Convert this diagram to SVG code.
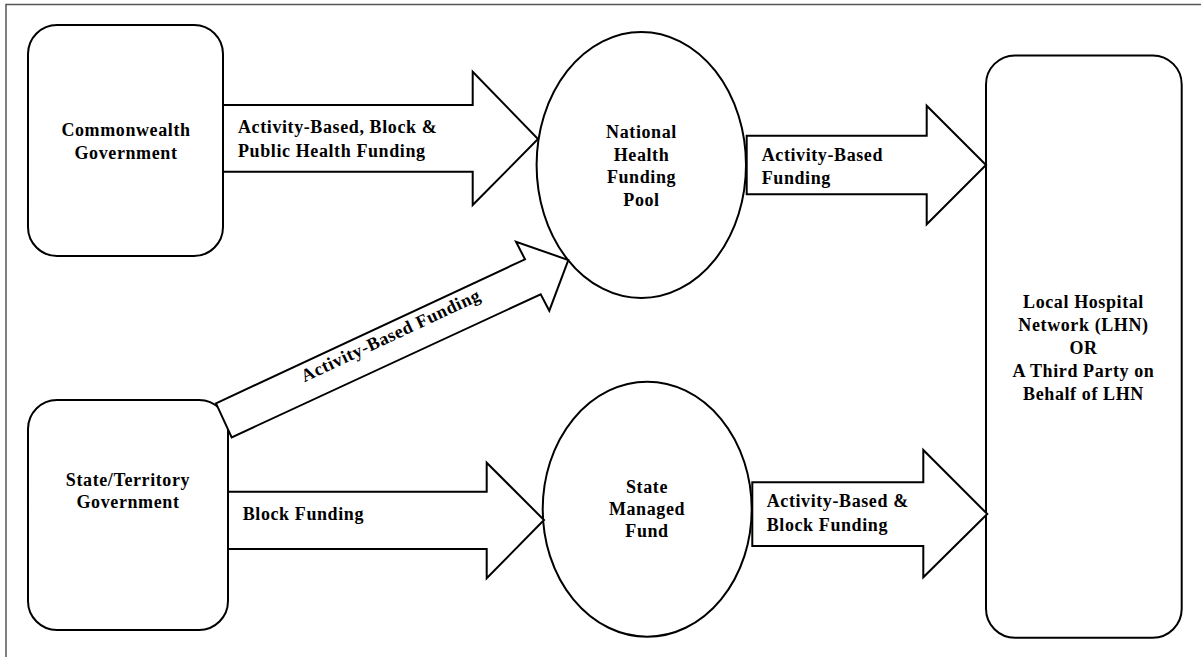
<svg xmlns="http://www.w3.org/2000/svg" width="1201" height="657" viewBox="0 0 1201 657">
<style>
.frame{fill:none;stroke:#555;stroke-width:1.5}
.node{fill:#fff;stroke:#000;stroke-width:2}
.arrow{fill:#fff;stroke:#000;stroke-width:2;stroke-linejoin:miter}
text{font-family:"Liberation Serif","Times New Roman",serif;font-weight:bold;font-size:18px;fill:#000;letter-spacing:0.6px}
.c{text-anchor:middle}
</style>
<rect width="1201" height="657" fill="#fff"/>
<path class="frame" d="M6,657 V4.5 H1201"/>
<g id="commonwealth">
<rect class="node" x="28" y="25" width="195" height="231" rx="29"/>
<text class="c" x="126" y="136">Commonwealth</text>
<text class="c" x="126" y="159">Government</text>
</g>
<g id="state">
<rect class="node" x="28" y="400" width="200" height="230" rx="29"/>
<text class="c" x="128" y="486">State/Territory</text>
<text class="c" x="128" y="508">Government</text>
</g>
<g id="nhfp">
<ellipse class="node" cx="641.3" cy="165" rx="104.7" ry="133"/>
<text class="c" x="641.5" y="138">National</text>
<text class="c" x="641.5" y="160.5">Health</text>
<text class="c" x="641.5" y="183">Funding</text>
<text class="c" x="641.5" y="205.5">Pool</text>
</g>
<g id="smf">
<ellipse class="node" cx="647.2" cy="509.2" rx="104.5" ry="127.5"/>
<text class="c" x="647" y="493">State</text>
<text class="c" x="647" y="515">Managed</text>
<text class="c" x="647" y="537">Fund</text>
</g>
<g id="lhn">
<rect class="node" x="986" y="55.4" width="195.7" height="582.4" rx="29"/>
<text class="c" x="1083.5" y="307.5">Local Hospital</text>
<text class="c" x="1083.5" y="330.5">Network (LHN)</text>
<text class="c" x="1083.5" y="353.5">OR</text>
<text class="c" x="1083.5" y="376.5">A Third Party on</text>
<text class="c" x="1083.5" y="399.5">Behalf of LHN</text>
</g>
<g id="connectors">
<polygon class="arrow" points="223,105 472.7,105 472.7,71.7 538,139 472.7,205 472.7,171.7 223,171.7"/>
<text x="238" y="133">Activity-Based, Block &amp;</text>
<text x="238" y="157">Public Health Funding</text>
<polygon class="arrow" points="746.7,135.7 926.7,135.7 926.7,105.7 986,165 926.7,224.3 926.7,194.3 746.7,194.3"/>
<text x="761.7" y="160.7">Activity-Based</text>
<text x="761.7" y="183.5">Funding</text>
<polygon class="arrow" points="216,403.3 525,259.3 516,241.7 568.3,260 549.3,310.7 540.7,294.3 231.7,437.3"/>
<text class="c" transform="translate(393.3,340.8) rotate(-25)">Activity-Based Funding</text>
<polygon class="arrow" points="228,491.7 486.7,491.7 486.7,462.7 544,520 486.7,578.3 486.7,549 228,549"/>
<text x="242.7" y="520">Block Funding</text>
<polygon class="arrow" points="752.3,482.3 923.3,482.3 923.3,450 987.3,514 923.3,577.3 923.3,546 752.3,546"/>
<text x="766.7" y="506.7">Activity-Based &amp;</text>
<text x="766.7" y="530.7">Block Funding</text>
</g>
</svg>
